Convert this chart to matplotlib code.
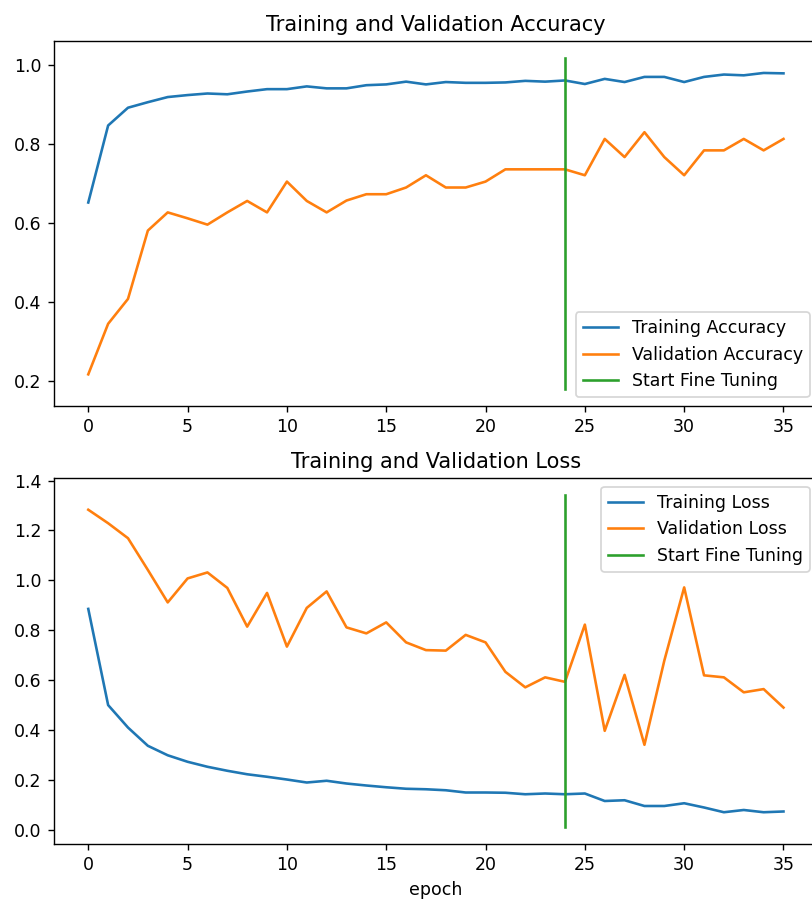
import matplotlib
matplotlib.use('Agg')
import matplotlib.pyplot as plt

initial_epochs = 25

acc = [0.651, 0.846, 0.891, 0.905, 0.918, 0.923, 0.927, 0.925, 0.932, 0.938,
       0.938, 0.945, 0.940, 0.940, 0.948, 0.950, 0.957, 0.950, 0.956, 0.954,
       0.954, 0.955, 0.959, 0.957, 0.960, 0.951, 0.964, 0.956, 0.969, 0.969,
       0.956, 0.969, 0.975, 0.973, 0.979, 0.978]
val_acc = [0.216, 0.344, 0.407, 0.580, 0.626, 0.611, 0.595, 0.626, 0.655, 0.626,
           0.704, 0.655, 0.626, 0.656, 0.672, 0.672, 0.689, 0.720, 0.689, 0.689,
           0.704, 0.735, 0.735, 0.735, 0.735, 0.720, 0.812, 0.766, 0.829, 0.766,
           0.720, 0.783, 0.783, 0.812, 0.783, 0.812]

loss = [0.886, 0.501, 0.411, 0.338, 0.300, 0.274, 0.254, 0.238, 0.224, 0.214,
        0.203, 0.191, 0.198, 0.187, 0.179, 0.172, 0.166, 0.164, 0.160, 0.151,
        0.151, 0.150, 0.144, 0.147, 0.144, 0.147, 0.117, 0.120, 0.097, 0.097,
        0.108, 0.091, 0.072, 0.081, 0.072, 0.075]
val_loss = [1.283, 1.229, 1.169, 1.042, 0.912, 1.008, 1.032, 0.970, 0.815, 0.950,
            0.735, 0.890, 0.956, 0.812, 0.788, 0.832, 0.752, 0.721, 0.719, 0.782,
            0.752, 0.634, 0.572, 0.612, 0.594, 0.823, 0.398, 0.622, 0.342, 0.679,
            0.972, 0.620, 0.612, 0.552, 0.565, 0.491]

fig = plt.figure(figsize=(812 / 125, 902 / 125), dpi=125)

# right edge sits past the figure border, like the cropped original
ax1 = fig.add_axes([0.0659, 0.5499, 0.9418, 0.4043])
ax1.plot(acc, label='Training Accuracy')
ax1.plot(val_acc, label='Validation Accuracy')
ax1.plot([initial_epochs - 1, initial_epochs - 1], ax1.get_ylim(), label='Start Fine Tuning')
ax1.legend(loc='lower right')
ax1.set_title('Training and Validation Accuracy')

ax2 = fig.add_axes([0.0659, 0.0643, 0.9418, 0.4058])
ax2.plot(loss, label='Training Loss')
ax2.plot(val_loss, label='Validation Loss')
ax2.plot([initial_epochs - 1, initial_epochs - 1], ax2.get_ylim(), label='Start Fine Tuning')
ax2.legend(loc='upper right')
ax2.set_title('Training and Validation Loss')
ax2.set_xlabel('epoch')

fig.savefig('out.png', dpi=125)
